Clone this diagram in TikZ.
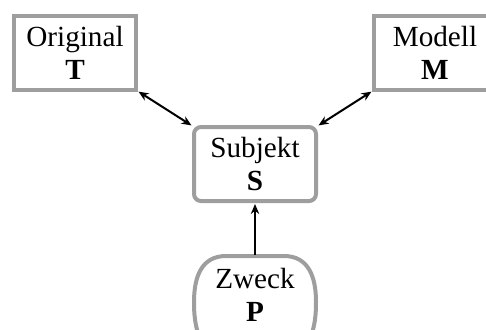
\documentclass[tikz,border=0pt]{standalone}
\usepackage{fontspec}
\setmainfont{Liberation Serif}
\usetikzlibrary{arrows.meta}

\begin{document}
\begin{tikzpicture}[x=0.5pt, y=-0.5pt,
    box/.style={draw=black!38, line width=2pt, minimum width=61pt, minimum height=37pt,
      outer sep=0pt, align=center, font=\fontsize{14.6}{16.5}\selectfont},
    link/.style={line width=1pt, {Stealth[length=5pt,width=4.2pt]}-{Stealth[length=5pt,width=4.2pt]}, shorten <=1.5pt, shorten >=1.5pt}]
    \useasboundingbox (0,0) rectangle (486,329);
    \clip (0,0) rectangle (486,329);
    \node[box] (orig) at (75,53) {Original\\\textbf{T}};
    \node[box] (modell) at (435,53) {Modell\\\textbf{M}};
    \node[box, rounded corners=3.5pt] (subj) at (255,164) {Subjekt\\\textbf{S}};
    \node[box, draw=none] (zweck) at (255,295) {Zweck\\\textbf{P}};
    % outline of the purpose node, bulging sides
    \draw[draw=black!38, line width=2pt] (199,336)
      .. controls (195,325) and (194,314) .. (194,302)
      .. controls (194,276) and (202,256) .. (226,256) -- (284,256)
      .. controls (308,256) and (316,276) .. (316,302)
      .. controls (316,314) and (315,325) .. (311,336);
    \draw[link] (orig.south east) -- (subj.north west);
    \draw[link] (modell.south west) -- (subj.north east);
    \draw[link, {Stealth[length=5pt,width=4.2pt]}-] (subj.south) -- (zweck.north);
\end{tikzpicture}
\end{document}
